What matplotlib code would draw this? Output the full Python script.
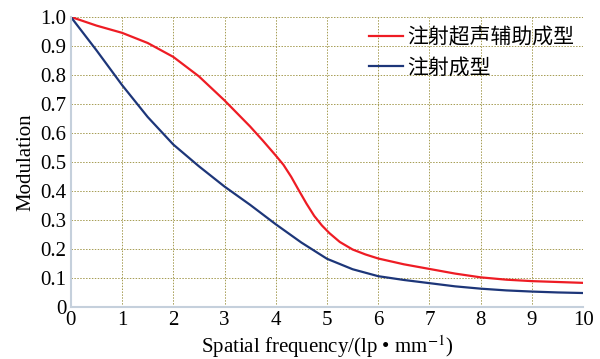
import matplotlib
matplotlib.use('Agg')
from matplotlib import pyplot as plt

plt.rcParams['font.family'] = ['Liberation Serif', 'Noto Sans CJK SC']
plt.rcParams['mathtext.fontset'] = 'stix'

# 空间频率 vs 调制度
freq_red = [0, 0.5, 1, 1.5, 2, 2.5, 3, 3.5, 3.75, 4, 4.15, 4.3, 4.45, 4.6, 4.75, 4.9, 5.05, 5.25,
            5.5, 5.75, 6, 6.5, 7, 7.5, 8, 8.5, 9, 9.5, 10]
mtf_red = [1.0, 0.97, 0.945, 0.91, 0.862, 0.795, 0.712, 0.622, 0.573, 0.522, 0.49, 0.449, 0.402,
           0.356, 0.314, 0.281, 0.254, 0.224, 0.198, 0.181, 0.167, 0.147, 0.131, 0.115, 0.102,
           0.094, 0.089, 0.086, 0.083]

freq_blue = [0, 0.5, 1, 1.5, 2, 2.5, 3, 3.5, 4, 4.5, 5, 5.5, 6, 6.5, 7, 7.5, 8, 8.5, 9, 9.5, 10]
mtf_blue = [1.0, 0.885, 0.765, 0.655, 0.56, 0.485, 0.415, 0.352, 0.285, 0.222, 0.166, 0.13, 0.106,
            0.093, 0.082, 0.071, 0.063, 0.057, 0.053, 0.05, 0.048]

labels = ['注射超声辅助成型', '注射成型']

fig = plt.figure(figsize=(6, 3.59), dpi=100)
ax = fig.add_axes([0.118, 0.145, 0.854, 0.808])

ax.plot(freq_red, mtf_red, color='#ee1c24', lw=1.6, label=labels[0])
ax.plot(freq_blue, mtf_blue, color='#1d3679', lw=1.6, label=labels[1])

ax.set_xlim(0, 10)
ax.set_ylim(0, 1.0)
ax.set_xticks(range(0, 11))
ax.set_yticks([i / 10 for i in range(11)])
ax.set_yticklabels(['0'] + ['%.1f' % (i / 10) for i in range(1, 11)])
ax.tick_params(length=0, labelsize=15, pad=3)

ax.grid(True, color='#a59c52', linestyle=(0, (1.5, 1.5)), linewidth=0.7)
for s in ['top', 'right']:
    ax.spines[s].set_visible(False)
for s in ['left', 'bottom']:
    ax.spines[s].set_color('#c5d0dc')
    ax.spines[s].set_linewidth(1.5)

ax.set_xlabel('Spatial frequency/(lp \u2022 mm$^{-1}$)', fontsize=15, labelpad=2)
ax.set_ylabel('Modulation', fontsize=15, labelpad=4)

leg = ax.legend(loc='upper right', bbox_to_anchor=(1.018, 1.025), frameon=False,
                fontsize=15, handlelength=1.6, handletextpad=0.2, labelspacing=0.48)

plt.savefig('out.png', dpi=100)
